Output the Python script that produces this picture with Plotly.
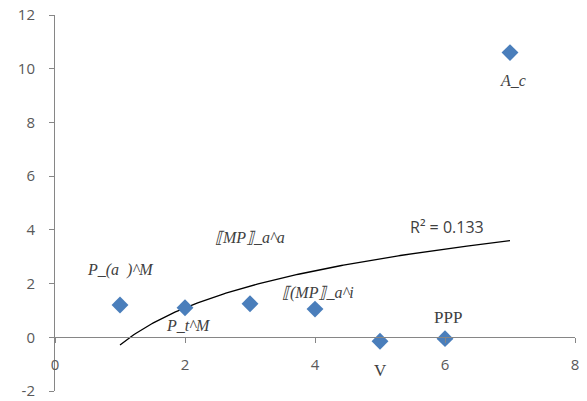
import numpy as np
import plotly.graph_objects as go

x_vals = [1, 2, 3, 4, 5, 6, 7]
y_vals = [1.2, 1.1, 1.25, 1.05, -0.15, -0.05, 10.6]
point_labels = ["P_(a  )^M", "P_t^M", "⟦MP⟧_a^a", "⟦(MP⟧_a^i", "V", "PPP", "A_c"]
label_x = [1.0, 2.05, 3.0, 4.05, 5.0, 6.05, 7.05]
label_y = [2.5, 0.45, 3.7, 1.65, -1.25, 0.75, 9.55]
label_italic = [True, True, True, True, False, False, True]
r2_text = "R² = 0.133"
x_ticks = [0, 2, 4, 6, 8]
y_ticks = [-2, 0, 2, 4, 6, 8, 10, 12]
y_tick_text = ["-2", "0", "2", "4", "6", "8", "10", "12"]

# logarithmic trendline fit
lx = np.log(np.array(x_vals, dtype=float))
a, b = np.polyfit(lx, np.array(y_vals), 1)
xt = np.linspace(1, 7, 200)
yt = a * np.log(xt) + b

fig = go.Figure()
fig.add_trace(go.Scatter(x=xt, y=yt, mode="lines",
                         line=dict(color="black", width=1.3), hoverinfo="skip"))
fig.add_trace(go.Scatter(x=x_vals, y=y_vals, mode="markers",
                         marker=dict(symbol="diamond", size=13, color="#4a7ebb")))

for xl, yl, t, it in zip(label_x, label_y, point_labels, label_italic):
    if it:
        fig.add_annotation(x=xl, y=yl, text=f"<i>{t}</i>", showarrow=False,
                           font=dict(family="Liberation Serif", size=16, color="#404040"))
    else:
        fig.add_annotation(x=xl, y=yl, text=t, showarrow=False,
                           font=dict(family="Liberation Serif", size=17, color="#404040"))
fig.add_annotation(x=6.03, y=4.1, text=r2_text, showarrow=False,
                   font=dict(family="Open Sans", size=16, color="#404040"))

grey = "#868686"
tickfont = dict(family="Open Sans", size=15, color="#595959")
fig.update_layout(
    width=587, height=401,
    margin=dict(l=55, r=12, t=15, b=10, autoexpand=False),
    paper_bgcolor="white", plot_bgcolor="white",
    showlegend=False,
    xaxis=dict(range=[0, 8], tickvals=x_ticks, showgrid=False, zeroline=False,
               showline=True, linecolor=grey, linewidth=1,
               ticks="outside", ticklen=5, tickcolor=grey,
               ticklabelstandoff=9, ticklabeloverflow="allow", automargin=False,
               anchor="free", position=2 / 14, tickfont=tickfont),
    yaxis=dict(range=[-2, 12], tickvals=y_ticks, ticktext=y_tick_text,
               showgrid=False, zeroline=False,
               showline=True, linecolor=grey, linewidth=1,
               ticks="outside", ticklen=5, tickcolor=grey,
               ticklabelstandoff=11, ticklabeloverflow="allow", automargin=False,
               tickfont=tickfont),
)
fig.write_html("out.html", config={"displayModeBar": False},
               post_script="document.body.style.margin='0';document.body.style.overflow='hidden';")
